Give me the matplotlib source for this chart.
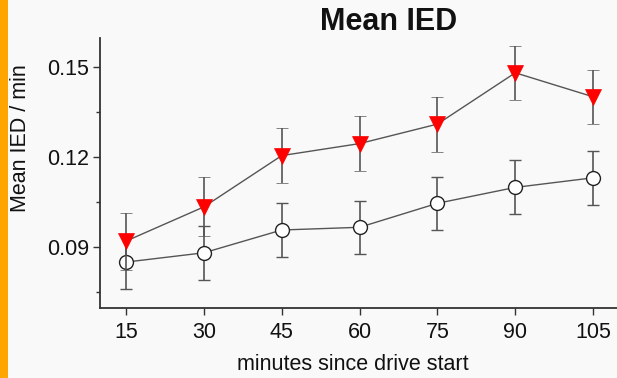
import matplotlib
matplotlib.use("Agg")
import matplotlib.pyplot as plt
from matplotlib.ticker import MultipleLocator
from matplotlib.patches import Rectangle

plt.rcParams['font.family'] = ['Liberation Sans', 'DejaVu Sans']

minutes = [15, 30, 45, 60, 75, 90, 105]
red_mean = [0.0920, 0.1034, 0.1205, 0.1245, 0.1310, 0.1481, 0.1401]
red_err = [0.0095, 0.0098, 0.0092, 0.0092, 0.0092, 0.0090, 0.0090]
open_mean = [0.0850, 0.0881, 0.0957, 0.0966, 0.1046, 0.1099, 0.1131]
open_err = [0.0090, 0.0089, 0.0090, 0.0088, 0.0088, 0.0090, 0.0090]

W, H = 617, 378
fig = plt.figure(figsize=(W / 100, H / 100), dpi=100)
fig.patch.set_facecolor('#f9f9f9')
fig.patches.append(Rectangle((0, 0), 7.5 / W, 1, transform=fig.transFigure,
                             facecolor='#ffa500', edgecolor='none', zorder=0))

ax = fig.add_axes([100 / W, 1 - 308 / H, 1 - 100 / W, (308 - 38) / H])
ax.set_facecolor('#f9f9f9')

line_col = '#555555'
ax.errorbar(minutes, open_mean, yerr=open_err, fmt='-', color=line_col, lw=1.0,
            elinewidth=1.2, capsize=4, capthick=1.2, marker='o', markersize=10,
            markerfacecolor='white', markeredgecolor='#222222', markeredgewidth=1.0, zorder=2)
ax.errorbar(minutes, red_mean, yerr=red_err, fmt='-', color=line_col, lw=1.0,
            elinewidth=1.2, capsize=4, capthick=1.2, marker='v', markersize=12,
            markerfacecolor='#ff0000', markeredgecolor='#ff0000', markeredgewidth=0.5, zorder=3)

ax.set_xlim(9.99, 109.6)
ax.set_ylim(0.0697, 0.1597)
ax.set_xticks(minutes)
ax.set_yticks([0.09, 0.12, 0.15])
ax.set_yticklabels(['0.09', '0.12', '0.15'])
ax.yaxis.set_minor_locator(MultipleLocator(0.015))

for s in ['top', 'right']:
    ax.spines[s].set_visible(False)
for s in ['left', 'bottom']:
    ax.spines[s].set_color('#333333')
    ax.spines[s].set_linewidth(1.3)

ax.tick_params(axis='both', which='major', direction='out', length=5, width=1.0,
               colors='#333333', labelsize=15.5, labelcolor='#111111', pad=3)
ax.tick_params(axis='y', which='minor', direction='out', length=3, width=1.0, colors='#333333')
ax.tick_params(axis='x', which='major', pad=5)

fig.text(389 / W, 1 - 22 / H, 'Mean IED', ha='center', va='center',
         fontsize=22, fontweight='bold', color='#111111')
fig.text(21 / W, 1 - 138 / H, 'Mean IED / min', rotation=90, ha='center', va='center',
         fontsize=15.5, color='#111111')
fig.text(353 / W, 1 - 365 / H, 'minutes since drive start', ha='center', va='center',
         fontsize=15.5, color='#111111')

fig.savefig('out.png', dpi=100, facecolor=fig.get_facecolor())
